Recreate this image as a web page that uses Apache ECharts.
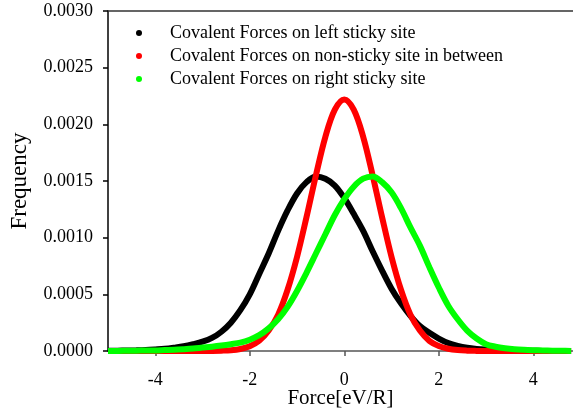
<!DOCTYPE html>
<html>
<head>
<meta charset="utf-8">
<script src="https://cdn.jsdelivr.net/npm/echarts@6/dist/echarts.min.js"></script>
<style>
  html, body { margin: 0; padding: 0; background: #ffffff; }
  #chart { width: 573px; height: 414px; }
</style>
</head>
<body>
<div id="chart"></div>
<script>
// Force samples [eV/R]
const forceX = [
  -5.0, -4.8, -4.6, -4.4, -4.2, -4.0, -3.8, -3.6, -3.4, -3.2,
  -3.0, -2.8, -2.6, -2.4, -2.2, -2.0, -1.8, -1.6, -1.4, -1.2,
  -1.0, -0.8, -0.6, -0.4, -0.2, 0.0, 0.2, 0.4, 0.6, 0.8,
  1.0, 1.2, 1.4, 1.6, 1.8, 2.0, 2.2, 2.4, 2.6, 2.8,
  3.0, 3.2, 3.4, 3.6, 3.8, 4.0, 4.2, 4.4, 4.6, 4.8
];

// Frequency of covalent force on the left sticky site
const leftSite = [
  0.000002, 0.000003, 0.000004, 0.000006, 0.000009, 0.000014, 0.00002, 0.00003, 0.000042, 0.00006,
  0.000082, 0.000115, 0.00017, 0.00025, 0.00036, 0.0005, 0.00068, 0.00086, 0.00106, 0.00124,
  0.00139, 0.00149, 0.00154, 0.00152, 0.00146, 0.00135, 0.00121, 0.00106, 0.00088, 0.00071,
  0.00055, 0.00042, 0.00031, 0.00022, 0.00016, 0.00011, 0.00007, 0.000045, 0.000028, 0.000018,
  0.000012, 0.000008, 0.000005, 0.000004, 0.000003, 0.000002, 0.000001, 0.000001, 0.000001, 0.000001
];

// Frequency of covalent force on the non-sticky site in between
const middleSite = [
  0, 0, 0, 0, 0, 0, 0, 0, 0, 0,
  0, 0.000001, 0.000003, 0.000007, 0.000018, 0.000042, 0.00009, 0.00018, 0.00032, 0.00054,
  0.00083, 0.00118, 0.00155, 0.00189, 0.00213, 0.00222, 0.00213, 0.00189, 0.00155, 0.00118,
  0.00083, 0.00054, 0.00032, 0.00018, 0.00009, 0.000045, 0.00002, 0.000008, 0.000003, 0.000001,
  0, 0, 0, 0, 0, 0, 0, 0, 0, 0
];

// Frequency of covalent force on the right sticky site
const rightSite = [
  0.000001, 0.000001, 0.000002, 0.000003, 0.000004, 0.000005, 0.000008, 0.000011, 0.000016, 0.000022,
  0.00003, 0.000038, 0.000048, 0.00006, 0.000074, 0.0001, 0.00014, 0.0002, 0.00028, 0.00039,
  0.00053, 0.00069, 0.00086, 0.00103, 0.0012, 0.00134, 0.00145, 0.00152, 0.00154, 0.00149,
  0.0014, 0.00126, 0.00109, 0.00093, 0.00074, 0.00056, 0.0004, 0.00028, 0.00018, 0.00011,
  0.00006, 0.000038, 0.000024, 0.000015, 0.00001, 0.000007, 0.000005, 0.000003, 0.000002, 0.000001
];

const seriesNames = [
  'Covalent Forces on left sticky site',
  'Covalent Forces on non-sticky site in between',
  'Covalent Forces on right sticky site'
];
const seriesColors = ['#000000', '#ff0000', '#00ff00'];

const xTickValues = [-4, -2, 0, 2, 4];

const FONT = '"Liberation Serif", "Times New Roman", serif';

function pairs(ys) {
  return forceX.map((x, i) => [x, ys[i]]);
}

function curve(name, color, ys) {
  return {
    name: name,
    type: 'line',
    data: pairs(ys),
    smooth: 0.35,
    showSymbol: false,
    clip: false,
    color: color,
    lineStyle: { color: color, width: 6 },
    itemStyle: { color: color },
    emphasis: { disabled: true }
  };
}

const chart = echarts.init(document.getElementById('chart'), null, { renderer: 'canvas' });

chart.setOption({
  animation: false,
  backgroundColor: '#ffffff',
  textStyle: { fontFamily: FONT },
  grid: { left: 108, right: 0, top: 11, bottom: 63, containLabel: false, outerBoundsMode: 'none' },
  legend: {
    orient: 'vertical',
    left: 131,
    top: 19,
    icon: 'circle',
    itemWidth: 6,
    itemHeight: 6,
    itemGap: 5,
    selectedMode: false,
    data: seriesNames,
    textStyle: {
      fontFamily: FONT,
      fontSize: 18,
      color: '#000000',
      lineHeight: 18,
      padding: [0, 0, 0, 23]
    }
  },
  xAxis: [
    {
      type: 'value',
      min: -5,
      max: 4.84,
      name: 'Force[eV/R]',
      nameLocation: 'middle',
      nameGap: 37,
      nameMoveOverlap: false,
      nameTextStyle: { fontFamily: FONT, fontSize: 21, color: '#000000' },
      axisLine: { show: true, onZero: false, lineStyle: { color: '#555555', width: 1.5 } },
      axisTick: { show: true, inside: false, length: 5, customValues: xTickValues, lineStyle: { color: '#555555', width: 1.5 } },
      axisLabel: { customValues: xTickValues, margin: 20, fontFamily: FONT, fontSize: 18, color: '#000000' },
      splitLine: { show: false }
    },
    {
      type: 'value',
      position: 'top',
      min: -5,
      max: 4.84,
      axisLine: { show: true, onZero: false, lineStyle: { color: '#333333', width: 1.5 } },
      axisTick: { show: false },
      axisLabel: { show: false },
      splitLine: { show: false }
    }
  ],
  yAxis: {
    type: 'value',
    min: 0,
    max: 0.003,
    interval: 0.0005,
    name: 'Frequency',
    nameLocation: 'middle',
    nameGap: 77,
    nameMoveOverlap: false,
    nameRotate: 90,
    nameTextStyle: { fontFamily: FONT, fontSize: 23, color: '#000000' },
    axisLine: { show: true, onZero: false, lineStyle: { color: '#000000', width: 1.5 } },
    axisTick: { show: true, inside: false, length: 5, lineStyle: { color: '#000000', width: 1.5 } },
    axisLabel: {
      margin: 15,
      fontFamily: FONT,
      fontSize: 18,
      color: '#000000',
      formatter: v => v.toFixed(4)
    },
    splitLine: { show: false }
  },
  series: [
    curve(seriesNames[0], seriesColors[0], leftSite),
    curve(seriesNames[1], seriesColors[1], middleSite),
    curve(seriesNames[2], seriesColors[2], rightSite)
  ]
});
</script>
</body>
</html>
